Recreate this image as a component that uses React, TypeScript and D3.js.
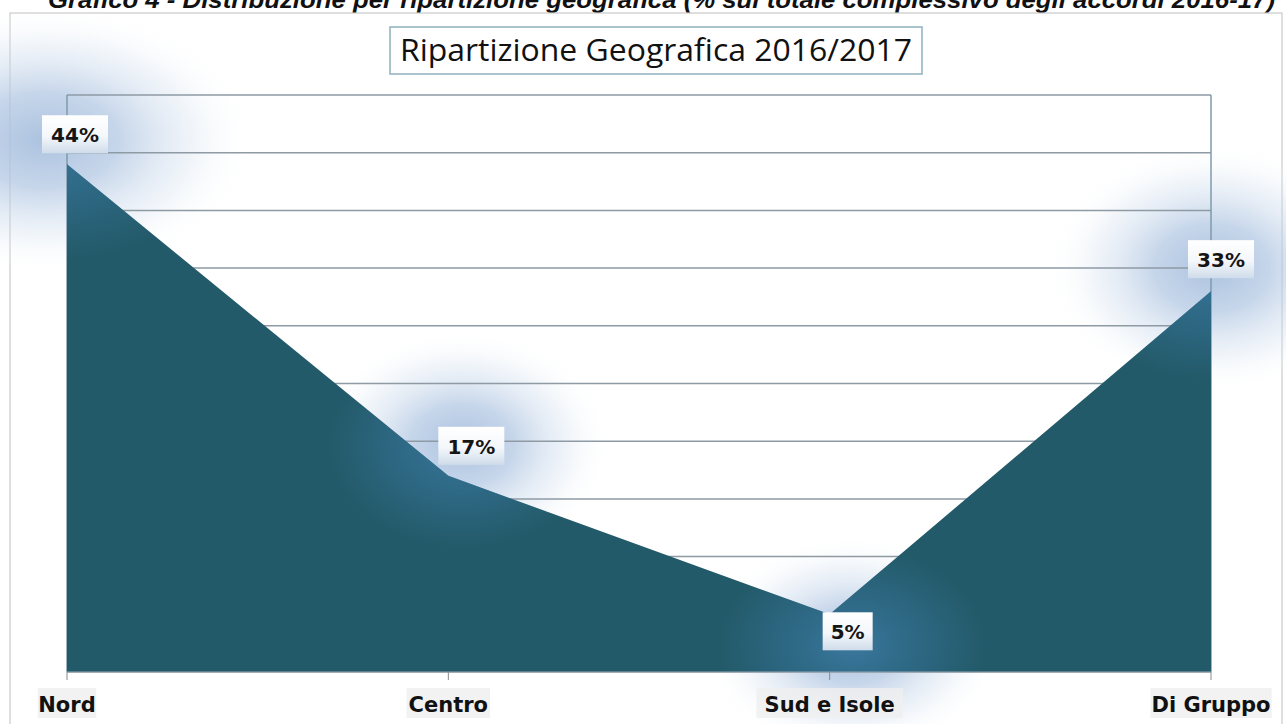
import React from "react";
import * as d3 from "d3";

const categories = ["Nord", "Centro", "Sud e Isole", "Di Gruppo"];
const values = [44, 17, 5, 33];
const valueLabels = ["44%", "17%", "5%", "33%"];
const yTicks = [0, 5, 10, 15, 20, 25, 30, 35, 40, 45, 50];
const chartTitle = "Ripartizione Geografica 2016/2017";
const caption =
  "Grafico 4 - Distribuzione per ripartizione geografica (% sul totale complessivo degli accordi 2016-17)";

// label box offsets relative to point (layout only)
const labelOffsets: [number, number][] = [
  [8, -30],
  [23, -30],
  [18, 17],
  [10, -32],
];

const W = 1286;
const H = 724;
const plot = { left: 67, right: 1211, top: 95, bottom: 672 };

export default function App() {
  const x = d3.scalePoint<string>().domain(categories).range([plot.left, plot.right]);
  const y = d3.scaleLinear().domain([0, 50]).range([plot.bottom, plot.top]);

  const pts = categories.map((c, i) => ({ c, v: values[i], x: x(c) as number, y: y(values[i]) }));
  const area = d3
    .area<{ x: number; y: number }>()
    .x((d) => d.x)
    .y0(y(0))
    .y1((d) => d.y);
  const areaPath = area(pts) || "";

  const glows = [
    { cx: 45, cy: 140, rx: 210, ry: 135 },
    { cx: 462, cy: 445, rx: 150, ry: 115 },
    { cx: 852, cy: 645, rx: 150, ry: 110 },
    { cx: 1212, cy: 268, rx: 165, ry: 125 },
  ];

  const labelFont = "'DejaVu Sans', Verdana, sans-serif";

  return (
    <svg
      width={W}
      height={H}
      viewBox={`0 0 ${W} ${H}`}
      style={{ position: "absolute", left: 0, top: 0, background: "#ffffff" }}
    >
      <defs>
        <radialGradient id="glowBg">
          <stop offset="0%" stopColor="#a7bfde" stopOpacity={0.95} />
          <stop offset="35%" stopColor="#b3c8e3" stopOpacity={0.75} />
          <stop offset="70%" stopColor="#d3e0ef" stopOpacity={0.35} />
          <stop offset="100%" stopColor="#ffffff" stopOpacity={0} />
        </radialGradient>
        <radialGradient id="glowArea">
          <stop offset="0%" stopColor="#4a8cc0" stopOpacity={0.6} />
          <stop offset="45%" stopColor="#3f80b2" stopOpacity={0.38} />
          <stop offset="100%" stopColor="#3f80b2" stopOpacity={0} />
        </radialGradient>
        <linearGradient id="boxGrad" x1="0" y1="0" x2="0" y2="1">
          <stop offset="0%" stopColor="#ffffff" />
          <stop offset="55%" stopColor="#f4f7fb" />
          <stop offset="100%" stopColor="#cfdcea" />
        </linearGradient>
        <clipPath id="areaClip">
          <path d={areaPath} />
        </clipPath>
      </defs>

      {/* caption (partially cut off at top) */}
      <text
        x={48}
        y={8}
        fontFamily="'Liberation Sans Narrow', 'Liberation Sans', Arial, sans-serif"
        fontWeight="bold"
        fontStyle="italic"
        fontSize={24}
        fill="#111"
        textLength={1227}
        lengthAdjust="spacingAndGlyphs"
      >
        {caption}
      </text>

      {/* outer frame */}
      <rect x={10} y={13} width={1272} height={740} fill="#ffffff" stroke="#c9c9c9" strokeWidth={1.2} />

      {/* background glows */}
      {glows.map((g, i) => (
        <ellipse key={i} cx={g.cx} cy={g.cy} rx={g.rx} ry={g.ry} fill="url(#glowBg)" />
      ))}

      {/* gridlines */}
      {yTicks.map((t) => (
        <line
          key={t}
          x1={plot.left}
          x2={plot.right}
          y1={y(t)}
          y2={y(t)}
          stroke="#8e9aa4"
          strokeWidth={1.5}
        />
      ))}
      {/* plot frame verticals */}
      <line x1={plot.left} x2={plot.left} y1={plot.top} y2={plot.bottom} stroke="#7e9bab" strokeWidth={1.5} />
      <line x1={plot.right} x2={plot.right} y1={plot.top} y2={plot.bottom} stroke="#7e9bab" strokeWidth={1.5} />

      {/* area */}
      <path d={areaPath} fill="#235a69" />
      <g clipPath="url(#areaClip)">
        {glows.map((g, i) => (
          <ellipse key={i} cx={g.cx} cy={g.cy} rx={g.rx * 0.9} ry={g.ry * 0.9} fill="url(#glowArea)" />
        ))}
      </g>

      {/* x axis ticks */}
      <line x1={plot.left} x2={plot.right} y1={plot.bottom} y2={plot.bottom} stroke="#9aa8b2" strokeWidth={1} />
      {pts.map((p) => (
        <line key={p.c} x1={p.x} x2={p.x} y1={plot.bottom} y2={plot.bottom + 8} stroke="#8a8a8a" strokeWidth={1} />
      ))}

      {/* category labels */}
      {pts.map((p) => {
        const w = p.c.length * 12.6 + 8;
        return (
          <g key={p.c}>
            <rect x={p.x - w / 2} y={688} width={w} height={30} fill="#efefef" opacity={0.8} />
            <text
              x={p.x}
              y={712}
              textAnchor="middle"
              fontFamily={labelFont}
              fontWeight="bold"
              fontSize={21}
              fill="#111"
            >
              {p.c}
            </text>
          </g>
        );
      })}

      {/* value labels */}
      {pts.map((p, i) => {
        const [dx, dy] = labelOffsets[i];
        const cx = p.x + dx;
        const cy = p.y + dy;
        const w = valueLabels[i].length * 16 + 18;
        const h = 38;
        return (
          <g key={"v" + i}>
            <rect x={cx - w / 2} y={cy - h / 2} width={w} height={h} fill="url(#boxGrad)" />
            <text
              x={cx}
              y={cy + 8}
              textAnchor="middle"
              fontFamily={labelFont}
              fontWeight="bold"
              fontSize={20}
              fill="#151515"
            >
              {valueLabels[i]}
            </text>
          </g>
        );
      })}

      {/* title box */}
      <rect x={390} y={27} width={532} height={47} fill="#ffffff" stroke="#8fb1bd" strokeWidth={1.5} />
      <text
        x={656}
        y={61}
        textAnchor="middle"
        fontFamily="'Open Sans', 'Noto Sans', sans-serif"
        fontWeight={500}
        fontSize={31}
        fill="#111"
        textLength={512}
        lengthAdjust="spacingAndGlyphs"
      >
        {chartTitle}
      </text>
    </svg>
  );
}
